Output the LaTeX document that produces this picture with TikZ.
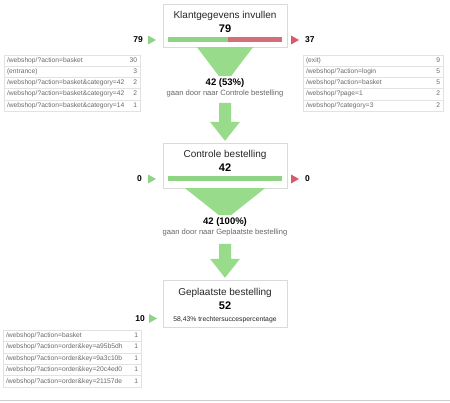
\documentclass[tikz,border=0pt]{standalone}
\usepackage{fontspec}
\setmainfont{Liberation Sans}
\usetikzlibrary{calc}
\definecolor{fgreen}{HTML}{97DB8B}
\definecolor{bgreen}{HTML}{8ED484}
\definecolor{bred}{HTML}{D66E79}
\definecolor{tgreen}{HTML}{8ED486}
\definecolor{tred}{HTML}{D95A6B}
\definecolor{bordergray}{HTML}{DADADA}
\definecolor{rowgray}{HTML}{E2E2E2}
\definecolor{subgray}{HTML}{666666}
\definecolor{listtext}{HTML}{6A6A6A}
\begin{document}
\begin{tikzpicture}[x=1pt,y=-1pt,
  stepbox/.style={draw=bordergray, fill=white, minimum width=124pt, inner sep=0pt},
  steptitle/.style={font=\fontsize{10}{11}\selectfont, text=black!85, inner sep=0pt},
  stepcount/.style={font=\fontsize{11}{12}\selectfont\bfseries, inner sep=0pt},
  flowpct/.style={font=\fontsize{9.5}{10}\selectfont\bfseries, inner sep=0pt},
  flowsub/.style={font=\fontsize{7.6}{8}\selectfont, text=subgray, inner sep=0pt},
  sidenum/.style={font=\fontsize{8.5}{9}\selectfont\bfseries, inner sep=0pt},
  lrow/.style={draw=rowgray, fill=white, minimum height=11.2pt, inner ysep=0pt, inner xsep=3pt,
     font=\fontsize{6.7}{7}\selectfont, text=listtext},
  lrowA/.style={lrow, text width=130pt},
  lrowB/.style={lrow, text width=134pt},
  lrowC/.style={lrow, text width=132pt, minimum height=11.4pt},
]
\useasboundingbox (0,0) rectangle (450,403);

% ---------- step boxes ----------
\node[stepbox, minimum height=43pt] (b1) at (225,25.5) {};
\node[stepbox, minimum height=45pt] (b2) at (225,165.5) {};
\node[stepbox, minimum height=47pt] (b3) at (225,303.5) {};

\node[steptitle] (t1) at (225,16) {Klantgegevens invullen};
\node[stepcount] (c1) at (225,29) {79};
\fill[bgreen] (168,37.5) rectangle (228,42.5);
\fill[bred] (228,37.5) rectangle (282,42.5);

\node[steptitle] (t2) at (225,155) {Controle bestelling};
\node[stepcount] (c2) at (225,167.5) {42};
\fill[bgreen] (168,176.5) rectangle (282,181.5);

\node[steptitle] (t3) at (225,292.5) {Geplaatste bestelling};
\node[stepcount] (c3) at (225,305.5) {52};
\node[font=\fontsize{6.8}{7}\selectfont, text=black!85, inner sep=0pt] (n3) at (225,320) {58,43\% trechtersuccespercentage};

% ---------- funnels and arrows ----------
\fill[fgreen] ($(b1.south)+(-28,0)$) -- ($(b1.south)+(28,0)$) -- ($(b1.south)+(6,29)$) -- ($(b1.south)+(-6,29)$) -- cycle;
\node[flowpct] (p1) at (225,83) {42 (53\%)};
\node[flowsub] (s1) at (225,93.5) {gaan door naar Controle bestelling};
\fill[fgreen] ($(b2.north)+(-6,-40)$) -- ($(b2.north)+(6,-40)$) -- ($(b2.north)+(6,-21)$) -- ($(b2.north)+(15,-21)$) -- ($(b2.north)+(0,-2)$) -- ($(b2.north)+(-15,-21)$) -- ($(b2.north)+(-6,-21)$) -- cycle;

\fill[fgreen] ($(b2.south)+(-40,0)$) -- ($(b2.south)+(40,0)$) -- ($(b2.south)+(6,27)$) -- ($(b2.south)+(-6,27)$) -- cycle;
\node[flowpct] (p2) at (225,222) {42 (100\%)};
\node[flowsub] (s2) at (225,232.5) {gaan door naar Geplaatste bestelling};
\fill[fgreen] ($(b3.north)+(-6,-36)$) -- ($(b3.north)+(6,-36)$) -- ($(b3.north)+(6,-21)$) -- ($(b3.north)+(15,-21)$) -- ($(b3.north)+(0,-2)$) -- ($(b3.north)+(-15,-21)$) -- ($(b3.north)+(-6,-21)$) -- cycle;

% ---------- side entries / exits ----------
\node[sidenum, anchor=east] (in1) at (143,40) {79};
\coordinate (ti1) at (148,40);
\fill[tgreen] ($(ti1)+(0,-4.5)$) -- ($(ti1)+(8,0)$) -- ($(ti1)+(0,4.5)$) -- cycle;
\coordinate (to1) at (291,40);
\fill[tred] ($(to1)+(0,-4.5)$) -- ($(to1)+(8,0)$) -- ($(to1)+(0,4.5)$) -- cycle;
\node[sidenum, anchor=west] (out1) at (305,40) {37};

\node[sidenum, anchor=east] (in2) at (142,179) {0};
\coordinate (ti2) at (148,179);
\fill[tgreen] ($(ti2)+(0,-4.5)$) -- ($(ti2)+(8,0)$) -- ($(ti2)+(0,4.5)$) -- cycle;
\coordinate (to2) at (291,179);
\fill[tred] ($(to2)+(0,-4.5)$) -- ($(to2)+(8,0)$) -- ($(to2)+(0,4.5)$) -- cycle;
\node[sidenum, anchor=west] (out2) at (305,179) {0};

\node[sidenum, anchor=east] (in3) at (145,318.5) {10};
\coordinate (ti3) at (149,318.5);
\fill[tgreen] ($(ti3)+(0,-4.5)$) -- ($(ti3)+(8,0)$) -- ($(ti3)+(0,4.5)$) -- cycle;

% ---------- left list (entrances step 1) ----------
\node[lrowA] (la1) at (72,60.6) {/webshop/?action=basket\hfill 30};
\node[lrowA] (la2) at (72,71.8) {(entrance)\hfill 3};
\node[lrowA] (la3) at (72,83.0) {/webshop/?action=basket\&category=42\hfill 2};
\node[lrowA] (la4) at (72,94.2) {/webshop/?action=basket\&category=42\hfill 2};
\node[lrowA] (la5) at (72,105.4) {/webshop/?action=basket\&category=14\hfill 1};

% ---------- right list (exits step 1) ----------
\node[lrowB] (ra1) at (373,60.6) {(exit)\hfill 9};
\node[lrowB] (ra2) at (373,71.8) {/webshop/?action=login\hfill 5};
\node[lrowB] (ra3) at (373,83.0) {/webshop/?action=basket\hfill 5};
\node[lrowB] (ra4) at (373,94.2) {/webshop/?page=1\hfill 2};
\node[lrowB] (ra5) at (373,105.4) {/webshop/?category=3\hfill 2};

% ---------- bottom list (entrances step 3) ----------
\node[lrowC] (lc1) at (72,335.7) {/webshop/?action=basket\hfill 1};
\node[lrowC] (lc2) at (72,347.1) {/webshop/?action=order\&key=a95b5dh\hfill 1};
\node[lrowC] (lc3) at (72,358.5) {/webshop/?action=order\&key=9a3c10b\hfill 1};
\node[lrowC] (lc4) at (72,369.9) {/webshop/?action=order\&key=20c4ed0\hfill 1};
\node[lrowC] (lc5) at (72,381.3) {/webshop/?action=order\&key=21157de\hfill 1};

% ---------- bottom rule ----------
\draw[black!20, line width=1pt] (0,400.5) -- (450,400.5);
\end{tikzpicture}
\end{document}
